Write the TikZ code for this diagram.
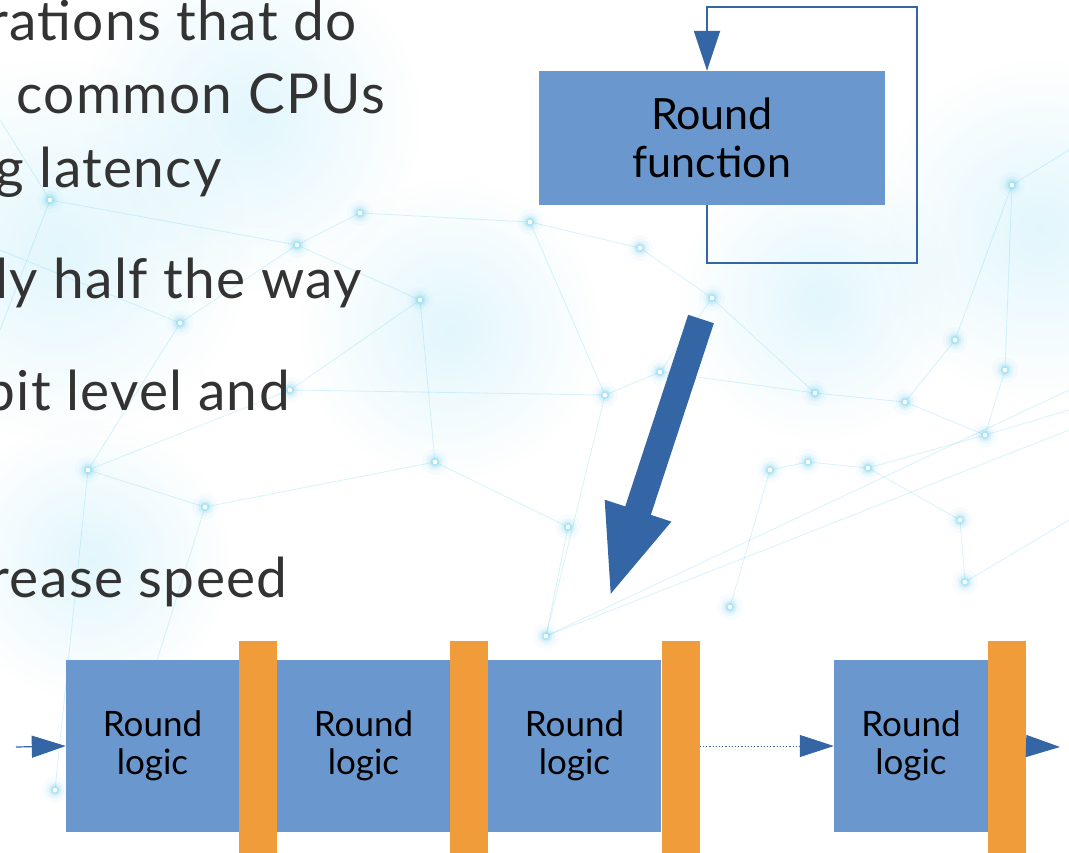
\documentclass[tikz,border=0pt]{standalone}
\usepackage{fontspec}
\setmainfont{Lato}
\usetikzlibrary{arrows.meta,fadings}
\definecolor{boxblue}{RGB}{106,151,205}
\definecolor{lineblue}{RGB}{52,101,164}
\definecolor{regorange}{RGB}{240,156,59}
\definecolor{bodytext}{RGB}{51,51,51}
\definecolor{net}{RGB}{80,200,235}
\definecolor{haze}{RGB}{150,225,248}
\tikzfading[name=softblob, inner color=transparent!0, outer color=transparent!100]
\tikzset{
  netline/.style={draw=net, opacity=0.22, line width=0.8pt},
  bullettext/.style={anchor=base east, inner sep=0pt, text=bodytext,
    font=\fontsize{55}{62}\selectfont\addfontfeatures{LetterSpace=2.5}},
  logicbox/.style={fill=boxblue, inner sep=0pt, minimum height=172pt,
    align=center, font=\fontsize{35}{38}\selectfont},
  regbar/.style={fill=regorange, inner sep=0pt, minimum width=38pt,
    minimum height=219pt},
  flowline/.style={draw=lineblue, line width=1.2pt,
    -{Triangle[length=34pt,width=22pt]}},
  hazefill/.style={fill=haze, fill opacity=0.28, path fading=softblob},
}
\newcommand{\glowdot}[2]{%
  \foreach \r/\o in {13/0.04,9/0.07,6.5/0.12}{\fill[net, opacity=\o] (#1,#2) circle (\r);}
  \fill[net!70, opacity=0.45] (#1,#2) circle (4.5);
  \fill[white] (#1,#2) circle (2.2);}
\newcommand{\hazeblob}[3]{\fill[hazefill] (#1,#2) circle (#3);}
\begin{document}
\begin{tikzpicture}[x=1pt,y=-1pt]
\useasboundingbox (0,0) rectangle (1069,852);
\clip (0,0) rectangle (1069,852);
\fill[white] (0,0) rectangle (1069,852);

% soft background haze
\hazeblob{60}{250}{190}
\hazeblob{250}{120}{170}
\hazeblob{1040}{230}{170}
\hazeblob{450}{330}{150}
\hazeblob{820}{300}{140}
\hazeblob{90}{560}{140}

% network pattern
\foreach \xa/\ya/\xb/\yb in {
  50/200/297/245, 297/245/420/300, 297/245/360/213, 360/213/530/222,
  530/222/640/248, 180/323/297/245, 0/250/180/323, 88/470/290/390,
  290/390/420/300, 290/390/605/395, 88/470/205/507, 205/507/435/462,
  435/462/568/527, 568/527/546/636, 546/636/605/395, 605/395/660/372,
  660/372/712/298, 530/222/605/395, 546/636/1069/390, 546/636/1069/430,
  770/470/808/462, 808/462/868/468, 868/468/985/435, 815/393/905/402,
  905/402/985/435, 985/435/1005/370, 1005/370/1012/185, 905/402/955/340,
  955/340/1012/185, 660/372/815/393, 712/298/815/393, 985/435/1069/410,
  868/468/960/520, 960/520/965/582, 730/607/770/470, 420/300/435/462,
  50/200/0/330, 180/323/88/470, 205/507/115/795, 88/470/55/790,
  640/248/712/298, 965/582/1069/520, 1012/185/1069/150, 0/120/50/200}
{\draw[netline] (\xa,\ya) -- (\xb,\yb);}
\foreach \x/\y in {50/200, 297/245, 420/300, 180/323, 88/470, 205/507,
  435/462, 568/527, 546/636, 605/395, 660/372, 712/298, 815/393, 905/402,
  985/435, 868/468, 770/470, 808/462, 1012/185, 1005/370, 965/582, 730/607,
  360/213, 530/222, 640/248, 955/340, 55/790, 290/390, 960/520, 115/795}
{\glowdot{\x}{\y}}

% slide text
\node[bullettext] (t1) at (357,40)  {rations that do};
\node[bullettext] (t2) at (385,113) {common CPUs};
\node[bullettext] (t3) at (222,187) {g latency};
\node[bullettext] (t4) at (362,298) {ly half the way};
\node[bullettext] (t5) at (290,410) {bit level and};
\node[bullettext] (t6) at (288,597) {rease speed};

% iterated round function with feedback loop
\node[fill=boxblue, inner sep=0pt, minimum width=346pt, minimum height=134pt,
  align=center, font=\fontsize{43}{48}\selectfont] (rf) at (712,138)
  {Round\\function};
\coordinate (loopout) at ([xshift=-5pt]rf.south);
\coordinate (loopin)  at ([xshift=-5pt]rf.north);
\coordinate (loopcorner) at (917,7);
\draw[draw=lineblue, line width=2pt, -{Triangle[length=40pt,width=26pt]}]
  (loopout) -- ++(0,58) -| (loopcorner) -| (loopin);

% unrolling arrow
\coordinate (ua) at (701,319);
\coordinate (ub) at (609,599);
\draw[draw=lineblue, line width=27pt, -{Triangle[length=93pt,width=62pt]}]
  (ua) -- (ub);

% unrolled pipeline
\node[logicbox, minimum width=173pt] (b1) at (152.5,746) {Round\\logic};
\node[regbar] (r1) at (258,750.5) {};
\node[logicbox, minimum width=173pt] (b2) at (363.5,746) {Round\\logic};
\node[regbar] (r2) at (469,750.5) {};
\node[logicbox, minimum width=173pt] (b3) at (574.5,746) {Round\\logic};
\node[regbar] (r3) at (680.5,750.5) {};
\node[logicbox, minimum width=154pt] (b4) at (911,746) {Round\\logic};
\node[regbar] (r4) at (1007,750.5) {};

\coordinate (pin)  at (16,747);
\coordinate (pout) at (1060,747);
\draw[flowline] (pin) -- (b1.west);
\draw[flowline, dotted, line width=1pt] (r3.east |- b4.west) -- (b4.west);
\draw[flowline] (r4.east |- b4.east) -- (pout);
\end{tikzpicture}
\end{document}
